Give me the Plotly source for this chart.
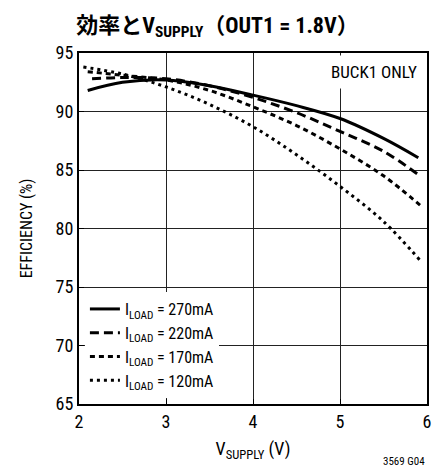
import plotly.graph_objects as go

FONT = "Roboto Condensed, Noto Sans CJK JP, sans-serif"

x270 = [2.1, 2.5, 3.0, 3.5, 4.0, 4.5, 5.0, 5.5, 5.9]
y270 = [91.8, 92.5, 92.7, 92.2, 91.4, 90.5, 89.4, 87.7, 86.05]

x220 = [2.15, 2.5, 3.0, 3.5, 4.0, 4.5, 5.0, 5.5, 5.9]
y220 = [92.8, 92.9, 92.8, 92.2, 91.2, 89.9, 88.3, 86.6, 84.6]

x170 = [2.1, 2.5, 3.0, 3.5, 4.0, 4.5, 5.0, 5.5, 5.92]
y170 = [93.4, 93.1, 92.7, 91.8, 90.4, 88.8, 86.8, 84.5, 82.0]

x120 = [2.05, 2.5, 3.0, 3.5, 4.0, 4.5, 5.0, 5.5, 5.93]
y120 = [93.8, 93.2, 92.1, 90.6, 88.7, 86.3, 83.6, 80.6, 77.2]

names = ["I<sub>LOAD</sub> = 270mA", "I<sub>LOAD</sub> = 220mA",
         "I<sub>LOAD</sub> = 170mA", "I<sub>LOAD</sub> = 120mA"]
xticks = [2, 3, 4, 5, 6]
yticks = [65, 70, 75, 80, 85, 90, 95]

series = [(x270, y270, "solid", 3), (x220, y220, "9px,5px", 3),
          (x170, y170, "5px,4px", 3), (x120, y120, "3px,4px", 3)]

fig = go.Figure()
for (xs, ys, dash, w), nm in zip(series, names):
    fig.add_trace(go.Scatter(x=xs, y=ys, mode="lines", name=nm,
                             line=dict(color="black", width=w, dash=dash,
                                       shape="spline", smoothing=1.0)))

fig.update_layout(
    width=435, height=471,
    margin=dict(l=79, r=4, t=53, b=67),
    paper_bgcolor="white", plot_bgcolor="white",
    font=dict(family=FONT, color="black", size=16),
    title=dict(text="<b>効率とV<sub>SUPPLY</sub>（OUT1 = 1.8V）</b>",
               font=dict(family=FONT, size=22, color="black"),
               x=0.5, xanchor="center", y=0.947, yanchor="middle"),
    showlegend=True,
    legend=dict(x=0.017, y=0.017, xanchor="left", yanchor="bottom",
                bgcolor="white", borderwidth=0,
                font=dict(family=FONT, size=16), tracegroupgap=0,
                itemwidth=30),
    xaxis=dict(range=[2, 6], tickvals=xticks, ticks="inside", ticklen=5,
               tickcolor="black", showgrid=True, gridcolor="#222", gridwidth=1,
               showline=True, linecolor="black", linewidth=2, mirror=True,
               tickfont=dict(size=18), zeroline=False,
               title=dict(text="V<sub>SUPPLY</sub> (V)", font=dict(size=18), standoff=12)),
    yaxis=dict(range=[65, 95], tickvals=yticks, ticks="inside", ticklen=5,
               tickcolor="black", showgrid=True, gridcolor="#222", gridwidth=1,
               showline=True, linecolor="black", linewidth=2, mirror=True,
               tickfont=dict(size=18), zeroline=False,
               title=dict(text="EFFICIENCY (%)", font=dict(size=16), standoff=19)),
    annotations=[
        dict(text="BUCK1 ONLY", xref="paper", yref="paper", x=0.99, y=0.995,
             xanchor="right", yanchor="top", showarrow=False,
             font=dict(size=17), bgcolor="white", borderpad=6),
        dict(text="3569 G04", xref="paper", yref="paper", x=1.0, y=-0.165,
             xanchor="right", yanchor="middle", showarrow=False,
             font=dict(size=11)),
    ],
)

fig.write_html("out.html")
